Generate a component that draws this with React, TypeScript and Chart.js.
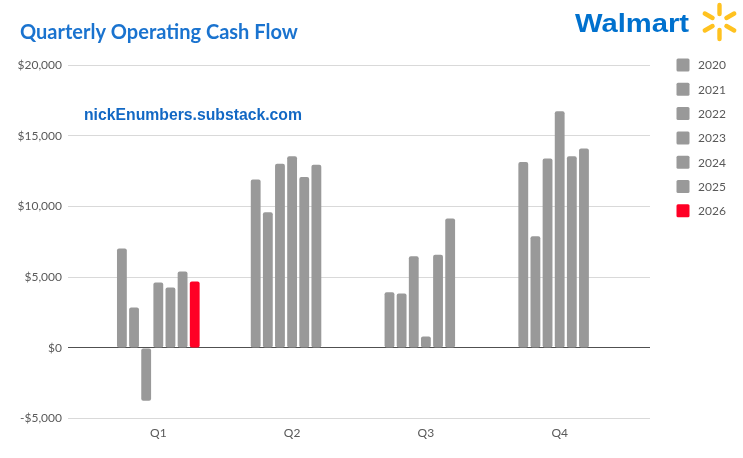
import React, { useEffect, useRef } from 'react'
import { Chart, registerables } from 'chart.js'

Chart.register(...registerables)

const quarters = ['Q1', 'Q2', 'Q3', 'Q4']
const years = ['2020', '2021', '2022', '2023', '2024', '2025', '2026']
const cash2020 = [7020, 11900, 3930, 13150]
const cash2021 = [2850, 9590, 3840, 7890]
const cash2022 = [-3730, 13010, 6480, 13390]
const cash2023 = [4620, 13550, 800, 16730]
const cash2024 = [4270, 12090, 6580, 13550]
const cash2025 = [5400, 12940, 9140, 14090]
const cash2026 = [4690, null, null, null]
const series = [cash2020, cash2021, cash2022, cash2023, cash2024, cash2025, cash2026]

const GREY = '#999999'
const RED = '#ff0025'
const TEXT = '#595959'

// draw text stretched to a given width (fonts here differ from the original)
function fitText(ctx: CanvasRenderingContext2D, text: string, x: number, y: number, width: number, size: number, family: string, color: string, stretch = false) {
  ctx.font = `bold ${size}px ${family}`
  const w = ctx.measureText(text).width
  ctx.fillStyle = color
  ctx.textBaseline = 'alphabetic'
  ctx.textAlign = 'left'
  if (stretch) {
    ctx.save()
    ctx.translate(x, y)
    ctx.scale(width / w, 1)
    ctx.fillText(text, 0, 0)
    ctx.restore()
    return
  }
  ctx.font = `bold ${size * (width / w)}px ${family}`
  ctx.fillText(text, x, y)
}

const decor = {
  id: 'decor',
  afterDraw(chart: any) {
    const { ctx } = chart
    ctx.save()
    fitText(ctx, 'Quarterly Operating Cash Flow', 20, 38.5, 278, 19, 'Lato', '#1a73cf')
    fitText(ctx, 'nickEnumbers.substack.com', 84, 120, 218, 17, '"Liberation Sans"', '#1268c4')
    fitText(ctx, 'Walmart', 575, 31.7, 114, 26, '"Liberation Sans"', '#0071ce', true)

    // spark
    const cx = 719.5
    const cy = 22
    ctx.strokeStyle = '#ffc220'
    ctx.lineWidth = 4.4
    ctx.lineCap = 'round'
    for (let k = 0; k < 6; k++) {
      const a = (Math.PI / 2) + k * (Math.PI / 3)
      ctx.beginPath()
      ctx.moveTo(cx + Math.cos(a) * 8, cy + Math.sin(a) * 8)
      ctx.lineTo(cx + Math.cos(a) * 17, cy + Math.sin(a) * 17)
      ctx.stroke()
    }

    // legend
    chart.data.datasets.forEach((ds: any, i: number) => {
      const y = 65 + i * 24.3
      ctx.fillStyle = ds.backgroundColor
      ctx.beginPath()
      ctx.roundRect(676.5, y - 6.5, 13, 13, 1.5)
      ctx.fill()
      ctx.fillStyle = TEXT
      ctx.font = '12px Lato'
      ctx.textBaseline = 'middle'
      ctx.textAlign = 'left'
      ctx.fillText(ds.label, 698, y + 0.5)
    })
    ctx.restore()
  },
}

export default function App() {
  const ref = useRef<HTMLCanvasElement | null>(null)

  useEffect(() => {
    document.body.style.margin = '0'
    if (!ref.current) return
    const chart = new Chart(ref.current, {
      type: 'bar',
      data: {
        labels: quarters,
        datasets: years.map((y, i) => ({
          label: y,
          data: series[i],
          backgroundColor: y === '2026' ? RED : GREY,
          borderRadius: 2,
          borderSkipped: false,
          categoryPercentage: 0.635,
          barPercentage: 0.81,
        })),
      },
      options: {
        animation: false,
        responsive: true,
        maintainAspectRatio: false,
        layout: { padding: { left: 0, top: 65, right: 93, bottom: 11 } },
        plugins: { legend: { display: false }, tooltip: { enabled: false } },
        scales: {
          x: {
            grid: { display: false, drawTicks: false },
            border: { display: false },
            ticks: { color: TEXT, font: { family: 'Lato', size: 12 }, padding: 7 },
            // leave a margin on both sides of the category band like the original plot area
            afterBuildTicks: (scale: any) => {
              scale._startValue = -0.675
              scale._valueRange = 4.35
            },
          },
          y: {
            min: -5000,
            max: 20000,
            ticks: {
              stepSize: 5000,
              color: TEXT,
              font: { family: 'Lato', size: 12 },
              padding: 6,
              callback: (v: any) => (v < 0 ? '-$' : '$') + Math.abs(v).toLocaleString('en-US'),
            },
            grid: {
              drawTicks: false,
              color: (c: any) => (c.tick && c.tick.value === 0 ? '#505050' : '#d9d9d9'),
            },
            border: { display: false },
            afterFit: (scale: any) => {
              scale.width = 68
            },
          },
        },
      },
      plugins: [decor],
    })
    return () => chart.destroy()
  }, [])

  return (
    <div style={{ width: 743, height: 458, position: 'relative', background: '#fff' }}>
      <canvas ref={ref} />
    </div>
  )
}
